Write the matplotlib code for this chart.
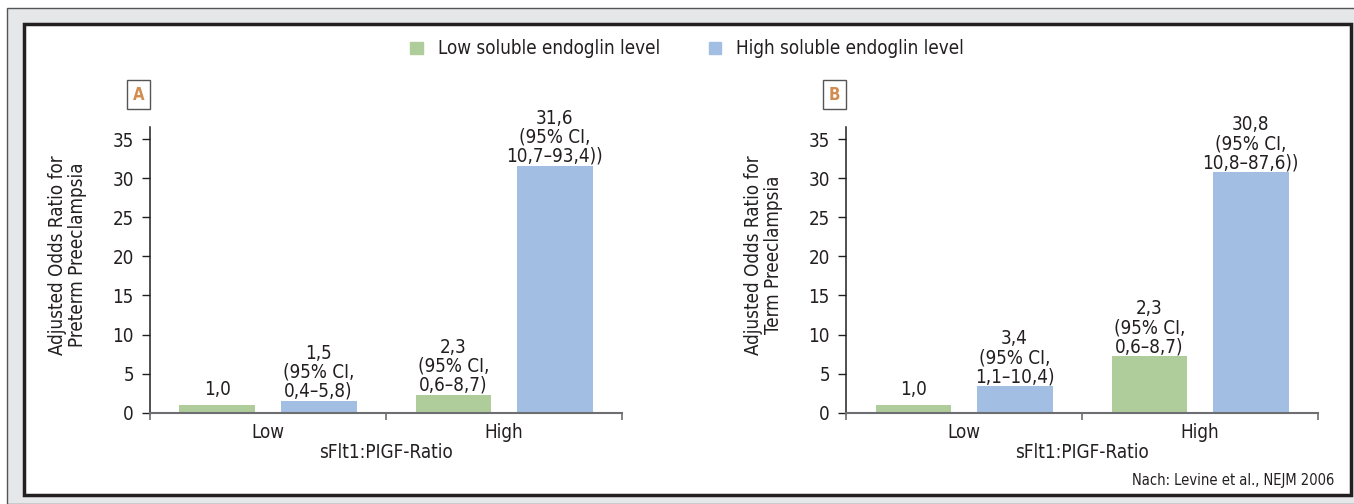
import matplotlib
matplotlib.use("Agg")
import matplotlib.pyplot as plt
from matplotlib.patches import Rectangle, Patch

plt.rcParams['font.family'] = ['DejaVu Sans']
plt.rcParams['font.stretch'] = 'condensed'

# data
groups = ["Low", "High"]
series = ["Low soluble endoglin level", "High soluble endoglin level"]
preterm_low_endo = [1.0, 2.3]
preterm_high_endo = [1.5, 31.6]
term_low_endo = [1.0, 7.2]
term_high_endo = [3.4, 30.8]
preterm_labels_low = ["1,0", "2,3\n(95% CI,\n0,6–8,7)"]
preterm_labels_high = ["1,5\n(95% CI,\n0,4–5,8)", "31,6\n(95% CI,\n10,7–93,4))"]
term_labels_low = ["1,0", "2,3\n(95% CI,\n0,6–8,7)"]
term_labels_high = ["3,4\n(95% CI,\n1,1–10,4)", "30,8\n(95% CI,\n10,8–87,6))"]
yticks = [0, 5, 10, 15, 20, 25, 30, 35]

green = "#afcd9a"
blue = "#a3bee3"
txt = "#231f20"
W, H = 1354, 504

fig = plt.figure(figsize=(W / 100, H / 100), dpi=100)

# frame
fig.patches.append(Rectangle((7 / W, 0), 1, (H - 8) / H, transform=fig.transFigure,
                             fc="#e6e7e8", ec="#555555", lw=1, zorder=-2))
fig.patches.append(Rectangle((24 / W, (H - 495) / H), (1351 - 24) / W, (495 - 24) / H,
                             transform=fig.transFigure, fc="white", ec=txt, lw=2.5, zorder=-1))


def label_bar(ax, text, xpos, val):
    # multi-line labels sit a little closer to the bar
    dy = 6 if "\n" not in text else 0
    ax.annotate(text, (xpos, val), xytext=(0, dy), textcoords="offset pixels",
                ha="center", va="bottom", fontsize=13.5, color=txt, linespacing=1.0)


def panel(left_px, low_vals, high_vals, low_labels, high_labels, ylab, letter):
    ax = fig.add_axes([left_px / W, (H - 412.7) / H, 472 / W, 286 / H])
    ax.patch.set_alpha(0)
    x = [0, 1]
    off, bw = 0.214, 0.322
    ax.bar([i - off for i in x], low_vals, bw, color=green, zorder=2)
    ax.bar([i + off for i in x], high_vals, bw, color=blue, zorder=2)
    for i in x:
        label_bar(ax, low_labels[i], i - off, low_vals[i])
        label_bar(ax, high_labels[i], i + off, high_vals[i])
    ax.set_xlim(-0.5, 1.5)
    ax.set_ylim(0, 36.6)
    ax.set_yticks(yticks)
    ax.set_xticks(x)
    ax.set_xticklabels(groups)
    ax.set_xticks([-0.5, 0.5, 1.5], minor=True)
    ax.tick_params(axis="x", which="major", length=0, pad=7.5, labelsize=13.5, labelcolor=txt)
    ax.tick_params(axis="x", which="minor", length=5, width=1.2, color="#6d6e71")
    ax.tick_params(axis="y", length=5.8, width=1, color=txt, pad=5.8, labelsize=13.5, labelcolor=txt)
    for s in ["top", "right"]:
        ax.spines[s].set_visible(False)
    ax.spines["left"].set_color(txt)
    ax.spines["left"].set_linewidth(1.1)
    ax.spines["bottom"].set_color("#6d6e71")
    ax.spines["bottom"].set_linewidth(1.5)
    ax.set_xlabel("sFlt1:PIGF-Ratio", fontsize=13.5, color=txt, labelpad=0.5)
    ax.text(-82.5 / 472, (412.7 - 255) / 286, ylab, transform=ax.transAxes, rotation=90,
            ha="center", va="center", fontsize=13.5, color=txt, linespacing=1.05)
    ax.text(-0.024, 1.112, letter, transform=ax.transAxes, ha="center", va="center",
            fontsize=12, fontweight="bold", color="#d18d4f",
            bbox=dict(boxstyle="square,pad=0.33", fc="white", ec="#555555", lw=1))
    return ax


panel(150, preterm_low_endo, preterm_high_endo, preterm_labels_low, preterm_labels_high,
      "Adjusted Odds Ratio for\nPreterm Preeclampsia", "A")
panel(846, term_low_endo, term_high_endo, term_labels_low, term_labels_high,
      "Adjusted Odds Ratio for\nTerm Preeclampsia", "B")

handles = [Patch(color=green, label=series[0]), Patch(color=blue, label=series[1])]
fig.legend(handles=handles, loc="center", bbox_to_anchor=(687 / W, 1 - 49 / H), ncol=2,
           frameon=False, fontsize=13.5, handlelength=0.65, handleheight=0.65,
           handletextpad=0.8, columnspacing=2.6, labelcolor=txt)

fig.text(1334 / W, 1 - 480.7 / H, "Nach: Levine et al., NEJM 2006", ha="right", va="center",
         fontsize=10.5, color=txt)

fig.savefig("out.png", dpi=100)
